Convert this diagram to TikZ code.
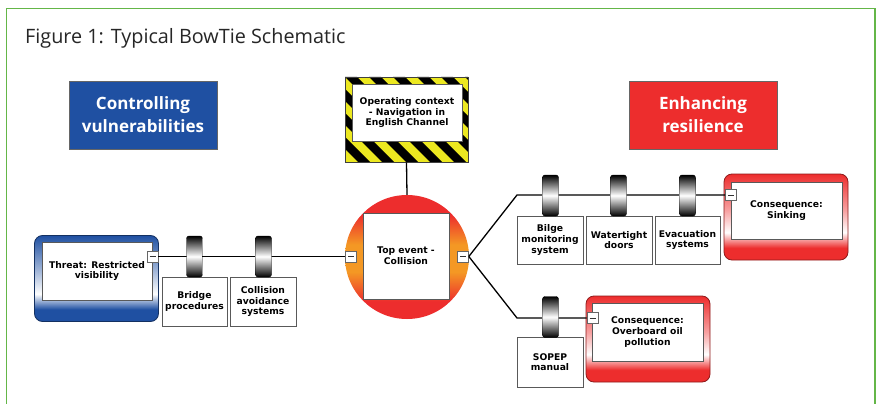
\documentclass[tikz,border=0pt]{standalone}
\usepackage{fontspec}
\setmainfont{DejaVu Sans}
\newfontfamily\headfont{Open Sans}
\definecolor{bblue}{RGB}{31,80,162}
\definecolor{rred}{RGB}{237,45,45}
\definecolor{frameg}{RGB}{100,182,72}
\definecolor{oorange}{RGB}{244,152,36}
\definecolor{yyellow}{RGB}{236,232,32}
\pgfdeclareverticalshading{threatshade}{100bp}{color(0bp)=(bblue); color(32bp)=(bblue); color(41bp)=(white); color(54bp)=(bblue!40); color(75bp)=(bblue); color(100bp)=(bblue)}
\pgfdeclareverticalshading{conshade}{100bp}{color(0bp)=(rred); color(32bp)=(rred); color(41bp)=(white); color(54bp)=(rred!45); color(75bp)=(rred); color(100bp)=(rred)}
\pgfdeclareverticalshading{circshade}{100bp}{color(0bp)=(rred); color(32bp)=(rred); color(44bp)=(oorange); color(55bp)=(oorange); color(67bp)=(rred); color(100bp)=(rred)}
\begin{document}
\begin{tikzpicture}[x=1pt,y=-1pt,
  lbl/.style={font=\bfseries\fontsize{9.2}{10.6}\selectfont, align=center, text=black},
  whitebox/.style={draw=black!65, line width=0.7pt, fill=white, inner sep=0pt, lbl},
  cyl/.style={rounded corners=2.5pt, top color=black, bottom color=black, middle color=white, draw=black, line width=0.4pt, minimum width=16pt, minimum height=41pt, inner sep=0pt},
  minus/.style={draw=black!60, fill=white, minimum size=11pt, inner sep=0pt, line width=0.6pt,
     path picture={\draw[black!80, line width=0.7pt] ([xshift=2.5pt]path picture bounding box.west) -- ([xshift=-2.5pt]path picture bounding box.east);}},
  head/.style={font=\headfont\bfseries\fontsize{17}{23}\selectfont, text=white, align=center, draw=black!60, line width=0.7pt, minimum width=148pt, minimum height=68pt, inner sep=0pt},
  outerbox/.style={rounded corners=8pt, draw=black!60, line width=0.8pt, minimum width=124pt, minimum height=86pt, inner sep=0pt},
  wire/.style={draw=black, line width=1.3pt}
]
\useasboundingbox (0,0) rectangle (878,404);
\fill[white] (0,0) rectangle (878,404);
% frame
\draw[frameg, line width=1.8pt] (6.5,404) -- (6.5,8.5) -- (875,8.5) -- (875,404);
% title
\node[anchor=base west, font=\headfont\fontsize{19.8}{22}\selectfont, text=black!85, inner sep=0pt] (title) at (25,43.5) {Figure 1: Typical BowTie Schematic};
% headers
\node[head, fill=bblue] (ctrl) at (143,115) {Controlling\\vulnerabilities};
\node[head, fill=rred] (enh) at (703,115) {Enhancing\\resilience};
% context hatch
\begin{scope}
  \clip (345,77) rectangle (468,162);
  \fill[yyellow] (345,77) rectangle (468,162);
  \foreach \i in {-5,...,6} {
    \fill[black] (345+\i*24,77) -- ++(12,0) -- ++(85,85) -- ++(-12,0) -- cycle;
  }
\end{scope}
\node[draw=black!75, line width=0.8pt, minimum width=123pt, minimum height=85pt, inner sep=0pt] (ctxo) at (406.5,119.5) {};
\node[whitebox, minimum width=110pt, minimum height=57pt] (ctx) at (407,112.5) {Operating context\\- Navigation in\\English Channel};
% top event circle
\node[circle, minimum size=124pt, inner sep=0pt, shade, shading=circshade] (circ) at (407,257) {};
\draw[wire] (ctxo.south) -- (circ.north);
\node[whitebox, minimum width=86pt, minimum height=86pt] (top) at (406,256) {Top event -\\Collision};
% threat
\node[outerbox, shade, shading=threatshade, draw=bblue!60!black] (thro) at (96.5,278.5) {};
\node[whitebox, minimum width=110pt, minimum height=58pt] (thr) at (97,271) {Threat: Restricted\\visibility};
% coordinates for bends
\coordinate (bu) at (517,195);
\coordinate (bl) at (517,318);
% consequences
\node[outerbox, shade, shading=conshade, draw=rred!60!black] (sinko) at (786,217) {};
\node[whitebox, minimum width=111pt, minimum height=57pt] (sink) at (786.5,210.5) {Consequence:\\Sinking};
\node[outerbox, shade, shading=conshade, draw=rred!60!black] (oilo) at (648,339) {};
\node[whitebox, minimum width=111pt, minimum height=58pt] (oil) at (647.5,332) {Consequence:\\Overboard oil\\pollution};
% minus boxes
\node[minus] (thm) at (152.5,256.5) {};
\node[minus] (tl) at (351,256.5) {};
\node[minus] (tr) at (463,256.5) {};
\node[minus] (sm) at (731,195) {};
\node[minus] (om) at (592.5,318) {};
% wires
\draw[wire] (thm.east) -- (tl.west);
\draw[wire] (tr.east) -- (bu) -- (sm.west);
\draw[wire] (tr.east) -- (bl) -- (om.west);
% left barriers
\node[whitebox, minimum width=65pt, minimum height=49pt] (b1) at (194.5,301.5) {Bridge\\procedures};
\node[whitebox, minimum width=66pt, minimum height=49pt] (b2) at (263,301.5) {Collision\\avoidance\\systems};
\node[cyl] (c1) at (194.5,256.5) {};
\node[cyl] (c2) at (263.5,256.5) {};
% right barriers
\node[whitebox, minimum width=66pt, minimum height=48pt] (b3) at (550,240) {Bilge\\monitoring\\system};
\node[whitebox, minimum width=66pt, minimum height=48pt] (b4) at (619,240) {Watertight\\doors};
\node[whitebox, minimum width=65pt, minimum height=48pt] (b5) at (687.5,240) {Evacuation\\systems};
\node[cyl] (c3) at (550.5,195.5) {};
\node[cyl] (c4) at (618.5,195.5) {};
\node[cyl] (c5) at (687.5,195.5) {};
\node[whitebox, minimum width=66pt, minimum height=49.5pt] (b6) at (550,362.25) {SOPEP\\manual};
\node[cyl] (c6) at (550.5,317) {};
\end{tikzpicture}
\end{document}
